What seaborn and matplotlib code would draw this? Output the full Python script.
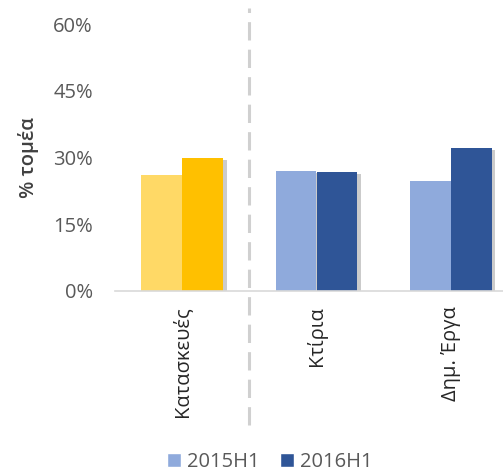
import matplotlib
matplotlib.use("Agg")
import matplotlib.pyplot as plt
import matplotlib.patheffects as pe
from matplotlib.patches import Patch
from matplotlib.ticker import FuncFormatter
import seaborn as sns
import pandas as pd

categories = ["Κατασκευές", "Κτίρια", "Δημ. Έργα"]
series = ["2015H1", "2016H1"]
values_2015 = [26.0, 27.0, 24.7]
values_2016 = [29.8, 26.7, 32.2]
yticks = [0, 15, 30, 45, 60]

df = pd.DataFrame({
    "cat": categories * 2,
    "series": [series[0]] * 3 + [series[1]] * 3,
    "val": values_2015 + values_2016,
})

sns.set_theme(style="white")
plt.rcParams["font.family"] = ["Open Sans", "DejaVu Sans"]

fig = plt.figure(figsize=(5.03, 4.72), dpi=100)
ax = fig.add_axes([115 / 503, 1 - 291 / 472, 403 / 503, (291 - 24) / 472])

blue = ["#8FAADC", "#2F5597"]
yellow = ["#FFD966", "#FFC000"]

sns.barplot(data=df, x="cat", y="val", hue="series", order=categories,
            hue_order=series, palette=blue, width=0.61, gap=0, ax=ax,
            legend=False, saturation=1, errorbar=None)

shadow = [pe.SimplePatchShadow(offset=(2.5, -1.5), shadow_rgbFace="#7f7f7f", alpha=0.4), pe.Normal()]
bars = [p for p in ax.patches]
for i, p in enumerate(bars):
    hue_idx = i // len(categories)
    cat_idx = i % len(categories)
    if cat_idx == 0:
        p.set_facecolor(yellow[hue_idx])
    p.set_edgecolor("none")
    p.set_path_effects(shadow)

fs = 14.5
ax.set_xlim(-0.5, 2.5)
ax.set_ylim(0, 60)
ax.set_yticks(yticks)
ax.yaxis.set_major_formatter(FuncFormatter(lambda v, _: f"{int(v)}%"))
ax.tick_params(axis="y", length=0, pad=16, labelsize=fs, labelcolor="#595959")
ax.tick_params(axis="x", length=0, pad=11, labelsize=fs, labelcolor="#262626")
for lab in ax.get_xticklabels():
    lab.set_rotation(90)
    lab.set_va("top")
    lab.set_ha("center")

for s in ["top", "right", "left"]:
    ax.spines[s].set_visible(False)
ax.spines["bottom"].set_color("#D9D9D9")
ax.spines["bottom"].set_linewidth(1.2)

ax.set_xlabel("")
ax.set_ylabel("% τομέα", fontsize=fs, fontweight="semibold", color="#404040", labelpad=10)

ax.axvline(0.5, ymin=-0.5, ymax=1.06, color="#D0D0D0", linestyle=(0, (6, 3)),
           linewidth=2.2, clip_on=False, zorder=0)

handles = [Patch(facecolor=blue[0]), Patch(facecolor=blue[1])]
fig.legend(handles, series, loc="center", bbox_to_anchor=(270 / 503, 1 - 462 / 472),
           ncol=2, frameon=False, fontsize=fs, handlelength=0.7, handleheight=0.7,
           handletextpad=0.3, columnspacing=1.0, labelcolor="#595959")

fig.savefig("out.png", dpi=100)
